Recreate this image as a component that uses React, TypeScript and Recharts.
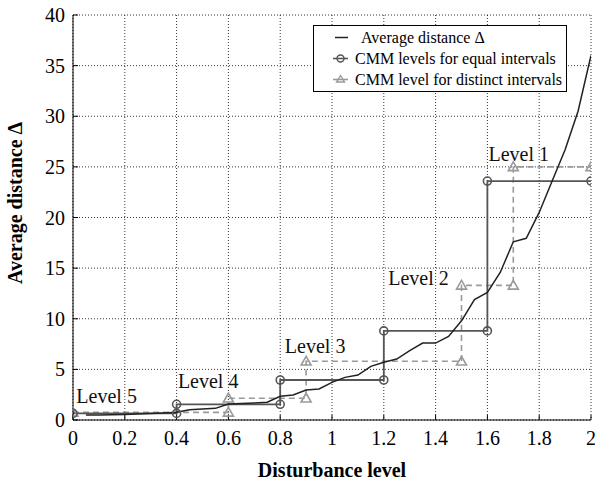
import React from "react";
import {
  LineChart,
  Line,
  XAxis,
  YAxis,
  CartesianGrid,
  ReferenceDot,
} from "recharts";

// Average distance curve
const curveLevels = [0.05, 0.1, 0.15, 0.2, 0.25, 0.3, 0.35, 0.4, 0.45, 0.5, 0.55, 0.6, 0.65, 0.7, 0.75, 0.8, 0.85, 0.9, 0.95, 1.0, 1.05, 1.1, 1.15, 1.2, 1.25, 1.3, 1.35, 1.4, 1.45, 1.5, 1.55, 1.6, 1.65, 1.7, 1.75, 1.8, 1.85, 1.9, 1.95, 2.0];
const curveDistance = [0.5, 0.5, 0.52, 0.55, 0.6, 0.65, 0.7, 0.76, 1.02, 1.08, 1.15, 1.58, 1.62, 1.68, 1.75, 2.35, 2.47, 2.96, 3.06, 3.72, 4.21, 4.44, 5.3, 5.7, 6.02, 6.85, 7.6, 7.6, 8.26, 9.8, 11.9, 12.6, 14.6, 17.6, 17.95, 20.5, 23.6, 26.7, 30.5, 36];

// CMM levels, equal intervals (step path)
const equalX = [0, 0.4, 0.4, 0.8, 0.8, 1.2, 1.2, 1.6, 1.6, 2.0];
const equalY = [0.65, 0.65, 1.55, 1.55, 3.95, 3.95, 8.8, 8.8, 23.6, 23.6];

// CMM levels, distinct intervals (step path)
const distinctX = [0, 0.6, 0.6, 0.9, 0.9, 1.5, 1.5, 1.7, 1.7, 2.0];
const distinctY = [0.75, 0.75, 2.15, 2.15, 5.8, 5.8, 13.3, 13.3, 25, 25];

const levelNames = ["Level 5", "Level 4", "Level 3", "Level 2", "Level 1"];
const levelX = [0.013, 0.405, 0.818, 1.217, 1.604];
const levelY = [1.7, 3.2, 6.6, 13.3, 25.6];

const xTicks = [0, 0.2, 0.4, 0.6, 0.8, 1, 1.2, 1.4, 1.6, 1.8, 2];
const yTicks = [0, 5, 10, 15, 20, 25, 30, 35, 40];

const legendNames = [
  "Average distance \u0394",
  "CMM levels for equal intervals",
  "CMM level for distinct intervals",
];

const curveData = curveLevels.map((x, i) => ({ x, y: curveDistance[i] }));
const equalData = equalX.map((x, i) => ({ x, y: equalY[i] }));
const distinctData = distinctX.map((x, i) => ({ x, y: distinctY[i] }));

const FONT = "'Liberation Serif', 'Times New Roman', serif";
const CURVE = "#222222";
const EQUAL = "#555555";
const DISTINCT = "#9a9a9a";

const TriangleDot = (props: any) => {
  const { cx, cy, index } = props;
  if (cx == null || cy == null) return null;
  const s = 5;
  return (
    <polygon
      key={`tri-${index}`}
      points={`${cx},${cy - s} ${cx - s},${cy + s * 0.75} ${cx + s},${cy + s * 0.75}`}
      fill="none"
      stroke={DISTINCT}
      strokeWidth={1.6}
    />
  );
};

const levelLabel = (text: string) => (props: any) => {
  const vb = props.viewBox || {};
  return (
    <text x={vb.x} y={vb.y} style={{ fontFamily: FONT }} fontSize={20} fill="#111" textAnchor="start">
      {text}
    </text>
  );
};

const yTitle = () => (
  <text
    x={15}
    y={203}
    transform="rotate(-90, 15, 203)"
    textAnchor="middle"
    dominantBaseline="central"
    style={{ fontFamily: FONT }}
    fontSize={20}
    fontWeight="bold"
    fill="#000"
  >
    Average distance {"\u0394"}
  </text>
);

export default function App() {
  return (
    <div style={{ position: "relative", width: 595, height: 485, fontFamily: FONT }}>
      <style>{"html, body { margin: 0; padding: 0; overflow: hidden; }"}</style>
      <LineChart
        width={595}
        height={485}
        margin={{ top: 15, right: 4, bottom: 0, left: 0 }}
        style={{ fontFamily: FONT }}
      >
        <CartesianGrid
          stroke="#000"
          strokeDasharray="1 2"
          strokeWidth={0.8}
          horizontalValues={yTicks}
          verticalValues={xTicks}
        />
        <XAxis
          type="number"
          dataKey="x"
          domain={[0, 2]}
          ticks={xTicks}
          interval={0}
          allowDataOverflow
          height={65}
          tickSize={-5}
          tickMargin={16}
          stroke="#000"
          tick={{ fill: "#000", fontSize: 20, style: { fontFamily: FONT } }}
          label={{
            value: "Disturbance level",
            position: "insideBottom",
            offset: 8,
            fill: "#000",
            fontSize: 20,
            fontWeight: "bold",
            style: { fontFamily: FONT },
          }}
        />
        <XAxis
          xAxisId="top"
          orientation="top"
          type="number"
          dataKey="x"
          domain={[0, 2]}
          ticks={xTicks}
          height={0}
          tick={false}
          tickSize={-5}
          stroke="#000"
        />
        <YAxis
          type="number"
          domain={[0, 40]}
          ticks={yTicks}
          interval={0}
          width={73}
          tickSize={-5}
          tickMargin={13}
          stroke="#000"
          tick={{ fill: "#000", fontSize: 20, style: { fontFamily: FONT } }}
          label={{ content: yTitle }}
        />
        <YAxis
          yAxisId="right"
          orientation="right"
          type="number"
          domain={[0, 40]}
          ticks={yTicks}
          width={0}
          tick={false}
          tickSize={-5}
          stroke="#000"
        />
        <Line
          data={distinctData}
          dataKey="y"
          stroke={DISTINCT}
          strokeWidth={1.6}
          strokeDasharray="6 4"
          dot={TriangleDot}
          activeDot={false}
          isAnimationActive={false}
        />
        <Line
          data={equalData}
          dataKey="y"
          stroke={EQUAL}
          strokeWidth={1.8}
          dot={{ r: 4, fill: "none", stroke: EQUAL, strokeWidth: 1.6 }}
          activeDot={false}
          isAnimationActive={false}
        />
        <Line
          data={curveData}
          dataKey="y"
          stroke={CURVE}
          strokeWidth={1.5}
          dot={false}
          activeDot={false}
          isAnimationActive={false}
        />
        {levelNames.map((name, i) => (
          <ReferenceDot
            key={name}
            x={levelX[i]}
            y={levelY[i]}
            r={0}
            stroke="none"
            fill="none"
            label={levelLabel(name)}
          />
        ))}
      </LineChart>
      <div
        style={{
          position: "absolute",
          left: 313,
          top: 25,
          width: 254,
          height: 67,
          background: "#fff",
          border: "1px solid #000",
          fontSize: 16,
          color: "#000",
          boxSizing: "border-box",
        }}
      >
        {legendNames.map((name, i) => (
          <div
            key={name}
            style={{
              position: "absolute",
              top: 2 + i * 21,
              left: 0,
              height: 19,
              display: "flex",
              alignItems: "center",
              whiteSpace: "nowrap",
            }}
          >
            <svg width={40} height={19}>
              {i === 0 && <line x1={21} x2={34} y1={9.5} y2={9.5} stroke={CURVE} strokeWidth={1.5} />}
              {i === 1 && (
                <>
                  <line x1={19} x2={34} y1={9.5} y2={9.5} stroke={EQUAL} strokeWidth={1.6} />
                  <circle cx={26.5} cy={9.5} r={3.5} fill="none" stroke={EQUAL} strokeWidth={1.4} />
                </>
              )}
              {i === 2 && (
                <>
                  <line x1={19} x2={34} y1={9.5} y2={9.5} stroke={DISTINCT} strokeWidth={1.6} />
                  <polygon points="26.5,5.5 22.5,12 30.5,12" fill="none" stroke={DISTINCT} strokeWidth={1.4} />
                </>
              )}
            </svg>
            <span style={{ marginLeft: i === 0 ? 7 : 1 }}>{name}</span>
          </div>
        ))}
      </div>
    </div>
  );
}
